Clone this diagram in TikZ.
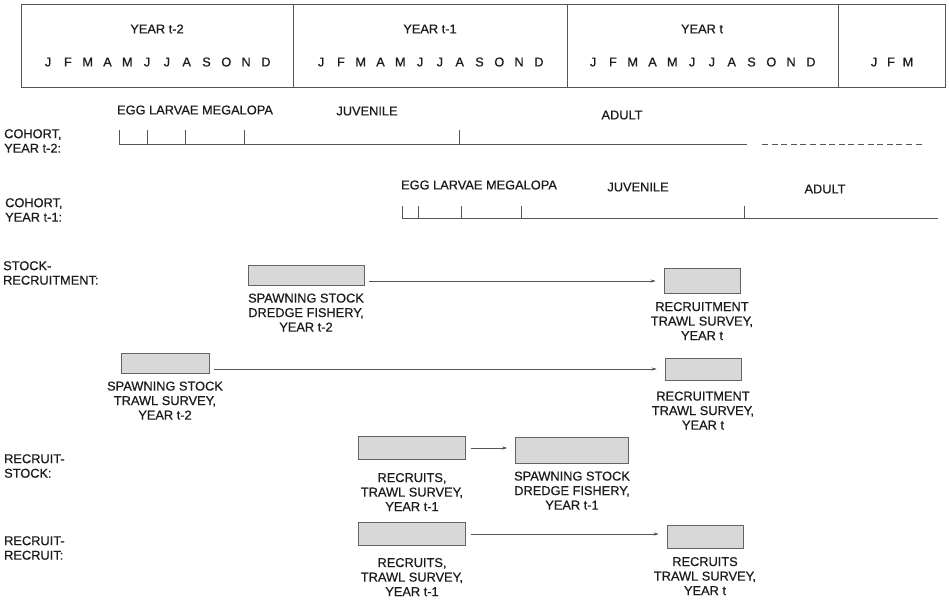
\documentclass[tikz,border=0pt]{standalone}
\usepackage{fontspec}
\setmainfont{Liberation Sans}
\newfontfamily\scanfont{Liberation Sans}[FakeBold=0.6]
\usepackage{tikz}
\usetikzlibrary{arrows.meta,positioning}
\definecolor{inkBlack}{RGB}{28, 28, 28}
\definecolor{ruleGray}{RGB}{85, 85, 85}
\definecolor{boxEdge}{RGB}{100, 100, 100}
\definecolor{boxShade}{RGB}{216, 216, 216}
\tikzset{
  lbl/.style={text=inkBlack, font=\scanfont\fontsize{12.8pt}{14.5pt}\selectfont, inner sep=0pt},
  rowlbl/.style={lbl, anchor=west, align=left},
  caption/.style={lbl, align=center, below=#1},
  databox/.style={draw=boxEdge, fill=boxShade, line width=0.8pt, inner sep=0pt},
  flow/.style={draw=ruleGray, line width=0.6pt, -{Stealth[length=5pt,width=3.2pt]}, shorten <=5pt, shorten >=8pt},
  timeline/.style={draw=ruleGray, line width=0.75pt}
}

\begin{document}
\begin{tikzpicture}[x=1pt, y=-1pt]
\useasboundingbox (0,0) rectangle (949,602);

% calendar header
\draw[draw=ruleGray, line width=1pt] (21,5) rectangle (945,87);
\foreach \x in {293,567,838} \draw[draw=ruleGray, line width=1pt] (\x,5) -- (\x,87);
\node[lbl] (yrA) at (157,29) {YEAR t-2};
\node[lbl] (yrB) at (430,29) {YEAR t-1};
\node[lbl] (yrC) at (702,29) {YEAR t};
\foreach \cx/\yr in {157/A,430/B,702/C}
  \foreach \m [count=\i] in {J,F,M,A,M,J,J,A,S,O,N,D}
    \node[lbl] (mo\yr\i) at ({\cx+(\i-6.5)*19.8},62) {\m};
\foreach \m [count=\i] in {J,F,M}
  \node[lbl] (moD\i) at ({891+(\i-2)*17},62) {\m};

% cohort t-2
\node[rowlbl] (cohA) at (4,141) {COHORT,\\YEAR t-2:};
\node[lbl] (eggA) at (195,110) {EGG LARVAE MEGALOPA};
\node[lbl] (juvA) at (367,111) {JUVENILE};
\node[lbl] (adA) at (622,115) {ADULT};
\draw[timeline] (119,130) -- (119,144) -- (747,144);
\foreach \x in {147,185,244,459} \draw[timeline] (\x,130) -- (\x,144);
\draw[timeline, dash pattern=on 6pt off 3.6pt] (762,144) -- (924,144);

% cohort t-1
\node[rowlbl] (cohB) at (5,210) {COHORT,\\YEAR t-1:};
\node[lbl] (eggB) at (479,185) {EGG LARVAE MEGALOPA};
\node[lbl] (juvB) at (638,187) {JUVENILE};
\node[lbl] (adB) at (825,189) {ADULT};
\draw[timeline] (402,206) -- (402,218) -- (938,218);
\foreach \x in {418,461,521,744} \draw[timeline] (\x,206) -- (\x,218);

% stock-recruitment
\node[rowlbl] (srLbl) at (3,273) {STOCK-\\RECRUITMENT:};
\node[databox, minimum width=116pt, minimum height=20pt] (ssdA) at (306,275) {};
\node[caption=8pt of ssdA] (ssdAtxt) {SPAWNING STOCK\\DREDGE FISHERY,\\YEAR t-2};
\node[databox, minimum width=76pt, minimum height=25pt] (recA) at (702,281) {};
\node[caption=8pt of recA] (recAtxt) {RECRUITMENT\\TRAWL SURVEY,\\YEAR t};
\draw[flow] (ssdA.east |- recA.west) -- (recA.west);

\node[databox, minimum width=88pt, minimum height=20pt] (sstA) at (165,363) {};
\node[caption=8pt of sstA] (sstAtxt) {SPAWNING STOCK\\TRAWL SURVEY,\\YEAR t-2};
\node[databox, minimum width=76pt, minimum height=22pt] (recB) at (703,369) {};
\node[caption=11pt of recB] (recBtxt) {RECRUITMENT\\TRAWL SURVEY,\\YEAR t};
\draw[flow] (sstA.east |- recB.west) -- (recB.west);

% recruit-stock
\node[rowlbl] (rsLbl) at (4,466) {RECRUIT-\\STOCK:};
\node[databox, minimum width=107pt, minimum height=23pt] (rctA) at (412,448) {};
\node[caption=13pt of rctA] (rctAtxt) {RECRUITS,\\TRAWL SURVEY,\\YEAR t-1};
\node[databox, minimum width=113pt, minimum height=26pt] (ssdB) at (572,450) {};
\node[caption=8pt of ssdB] (ssdBtxt) {SPAWNING STOCK\\DREDGE FISHERY,\\YEAR t-1};
\draw[flow] (rctA.east) -- (rctA.east -| ssdB.west);

% recruit-recruit
\node[rowlbl] (rrLbl) at (4,548) {RECRUIT-\\RECRUIT:};
\node[databox, minimum width=107pt, minimum height=23pt] (rctB) at (412,534) {};
\node[caption=12pt of rctB] (rctBtxt) {RECRUITS,\\TRAWL SURVEY,\\YEAR t-1};
\node[databox, minimum width=76pt, minimum height=23pt] (rctC) at (705,537) {};
\node[caption=8pt of rctC] (rctCtxt) {RECRUITS\\TRAWL SURVEY,\\YEAR t};
\draw[flow] (rctB.east) -- (rctB.east -| rctC.west);
\end{tikzpicture}
\end{document}
